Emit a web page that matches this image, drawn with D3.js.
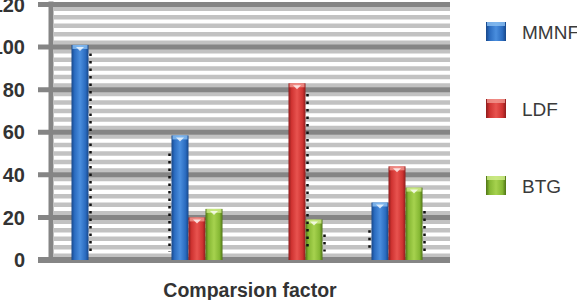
<!DOCTYPE html>
<html>
<head>
<meta charset="utf-8">
<script src="https://cdn.jsdelivr.net/npm/d3@7"></script>
<style>
  body { margin: 0; background: #fff; }
  svg { display: block; font-family: "Liberation Sans", Arial, sans-serif; }
</style>
</head>
<body>
<svg id="chart" width="577" height="300"></svg>
<script>
const categories = ['G1', 'G2', 'G3', 'G4'];
const seriesNames = ['MMNF', 'LDF', 'BTG'];
const mmnf = [101, 58.5, 0, 27];
const ldf = [0, 20, 83, 44];
const btg = [0, 24, 19, 34];
const yTicks = [0, 20, 40, 60, 80, 100, 120];
// dotted marks seen beside some bars: [category, series, side, top value]
const dotted = [
  ['G1', 'MMNF', 'right', 97],
  ['G2', 'MMNF', 'left', 50],
  ['G3', 'LDF', 'right', 78],
  ['G3', 'BTG', 'right', 12],
  ['G4', 'MMNF', 'left', 14],
  ['G4', 'BTG', 'right', 23]
];

const colors = {
  MMNF: { mid: '#4a8ede', base: '#2b6cc0', edge: '#17478a', top: '#8cc0f2' },
  LDF:  { mid: '#e8534f', base: '#cf3331', edge: '#8e1c1c', top: '#f39a92' },
  BTG:  { mid: '#a6d24e', base: '#86b834', edge: '#4f7415', top: '#d2ee8f' }
};

const values = { MMNF: mmnf, LDF: ldf, BTG: btg };
const rows = categories.map((c, i) => ({
  cat: c,
  vals: seriesNames.map(s => ({ s, v: values[s][i] }))
}));

const svg = d3.select('#chart');

const x0 = d3.scaleBand().domain(categories).range([47, 447]);
const x1 = d3.scaleBand().domain(seriesNames).range([24.5, 75.5]);
const y = d3.scaleLinear().domain([0, 120]).range([260, 4.5]);

// gradients
const defs = svg.append('defs');
seriesNames.forEach(s => {
  const g = defs.append('linearGradient').attr('id', 'g-' + s)
    .attr('x1', 0).attr('x2', 1).attr('y1', 0).attr('y2', 0);
  g.append('stop').attr('offset', '0%').attr('stop-color', colors[s].edge);
  g.append('stop').attr('offset', '18%').attr('stop-color', colors[s].base);
  g.append('stop').attr('offset', '50%').attr('stop-color', colors[s].mid);
  g.append('stop').attr('offset', '82%').attr('stop-color', colors[s].base);
  g.append('stop').attr('offset', '100%').attr('stop-color', colors[s].edge);
});

// minor stripes
const minor = d3.range(2, 120, 4);
svg.append('g').selectAll('line').data(minor).join('line')
  .attr('x1', 54).attr('x2', 450)
  .attr('y1', d => y(d)).attr('y2', d => y(d))
  .attr('stroke', '#c2c2c2').attr('stroke-width', 4.5);

// major gridlines with ticks
svg.append('g').selectAll('line').data(yTicks).join('line')
  .attr('x1', 38).attr('x2', 450)
  .attr('y1', d => y(d)).attr('y2', d => y(d))
  .attr('stroke', '#858585').attr('stroke-width', d => d === 0 ? 6 : 5);

// y axis line
svg.append('line')
  .attr('x1', 51).attr('x2', 51)
  .attr('y1', y(120) - 3).attr('y2', y(0))
  .attr('stroke', '#858585').attr('stroke-width', 5);

// y labels (the leading digit of 100/120 falls off the left edge, as in the source)
svg.append('g').selectAll('text').data(yTicks).join('text')
  .attr('x', 25).attr('y', d => y(d))
  .attr('dy', '0.36em')
  .attr('text-anchor', 'end')
  .attr('font-size', 20).attr('font-weight', 'bold')
  .attr('fill', '#333')
  .text(d => d);

// bars
const groups = svg.append('g').selectAll('g').data(rows).join('g')
  .attr('transform', d => `translate(${x0(d.cat)},0)`);

const bars = groups.selectAll('g').data(d => d.vals.filter(v => v.v > 0)).join('g');

bars.append('rect')
  .attr('x', d => x1(d.s))
  .attr('y', d => y(d.v))
  .attr('width', x1.bandwidth())
  .attr('height', d => y(0) - y(d.v))
  .attr('fill', d => `url(#g-${d.s})`);

bars.append('rect')
  .attr('x', d => x1(d.s) + 1)
  .attr('y', d => y(d.v))
  .attr('width', x1.bandwidth() - 2)
  .attr('height', 4)
  .attr('fill', d => colors[d.s].top)
  .attr('opacity', 0.8);

bars.append('path')
  .attr('d', d => {
    const cx = x1(d.s) + x1.bandwidth() / 2;
    const ty = y(d.v) + 2;
    return `M${cx - 4},${ty}L${cx + 4},${ty}L${cx},${ty + 4}Z`;
  })
  .attr('fill', '#ffffff').attr('opacity', 0.75);

// dotted marks
svg.append('g').selectAll('line').data(dotted).join('line')
  .attr('x1', d => x0(d[0]) + x1(d[1]) + (d[2] === 'right' ? x1.bandwidth() + 2 : -2))
  .attr('x2', d => x0(d[0]) + x1(d[1]) + (d[2] === 'right' ? x1.bandwidth() + 2 : -2))
  .attr('y1', d => y(d[3]))
  .attr('y2', y(4))
  .attr('stroke', '#111').attr('stroke-width', 2.5)
  .attr('stroke-dasharray', '2.5 5');

// legend
const legend = svg.append('g').selectAll('g').data(seriesNames).join('g')
  .attr('transform', (d, i) => `translate(486,${22 + i * 77})`);

legend.append('rect')
  .attr('width', 20).attr('height', 19)
  .attr('fill', d => `url(#g-${d})`);
legend.append('rect')
  .attr('x', 1).attr('width', 18).attr('height', 4)
  .attr('fill', d => colors[d].top).attr('opacity', 0.8);
legend.append('text')
  .attr('x', 36).attr('y', 10).attr('dy', '0.36em')
  .attr('font-size', 19).attr('fill', '#3a3a3a')
  .text(d => d);

// x title
svg.append('text')
  .attr('x', 250).attr('y', 297)
  .attr('text-anchor', 'middle')
  .attr('font-size', 19.5).attr('font-weight', 'bold')
  .attr('fill', '#333')
  .text('Comparsion factor');
</script>
</body>
</html>
